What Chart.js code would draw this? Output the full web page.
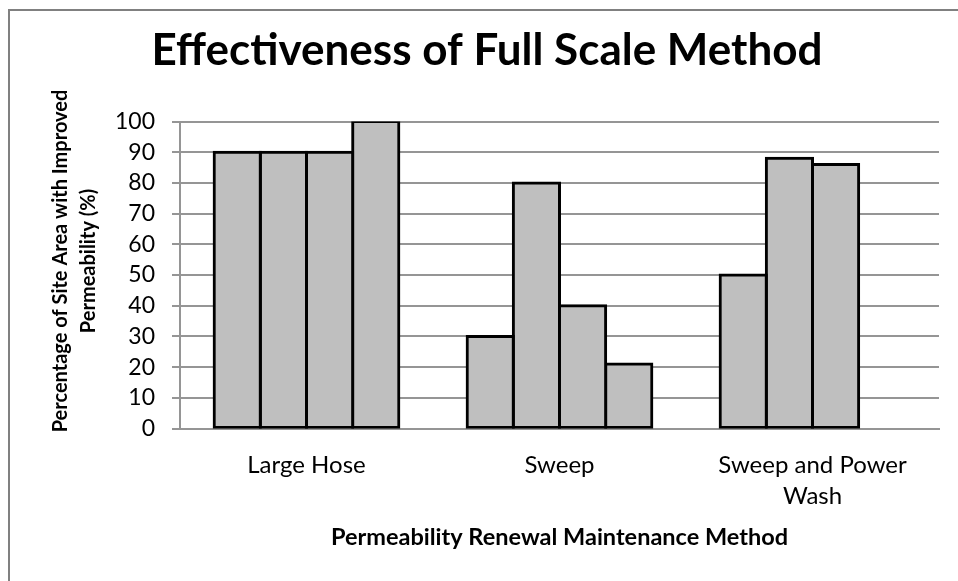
<!DOCTYPE html>
<html>
<head>
<meta charset="utf-8">
<title>Effectiveness of Full Scale Method</title>
<script src="https://cdn.jsdelivr.net/npm/chart.js@4.4.1/dist/chart.umd.min.js"></script>
<style>
  html, body { margin: 0; padding: 0; background: #fff; }
  #chart { display: block; }
</style>
</head>
<body>
<canvas id="chart" width="958" height="581"></canvas>
<script>
// Data
const categories = ['Large Hose', 'Sweep', ['Sweep and Power', 'Wash']];
const trial1 = [90, 30, 50];
const trial2 = [90, 80, 88];
const trial3 = [90, 40, 86];
const trial4 = [100, 21, null];
const yTicks = [0, 10, 20, 30, 40, 50, 60, 70, 80, 90, 100];
const yTitle = ['Percentage of Site Area with Improved', 'Permeability (%)'];

const FONT = 'Lato, "Open Sans", sans-serif';
const GRID = '#959595';

function barSet(label, values) {
    return {
        label: label,
        data: values,
        backgroundColor: '#bfbfbf',
        borderColor: '#000',
        borderWidth: 3,
        borderSkipped: false,
        inflateAmount: 1.5,
        categoryPercentage: 0.73,
        barPercentage: 1.0
    };
}

// frame lines (the chart border is cropped on the right and bottom)
// plus the two-line vertical axis title, which sits a bit above the plot centre
const decorPlugin = {
    id: 'decor',
    afterDraw(chart) {
        const ctx = chart.ctx;
        ctx.save();
        ctx.strokeStyle = '#808080';
        ctx.lineWidth = 2;
        ctx.beginPath();
        ctx.moveTo(9, 581);
        ctx.lineTo(9, 10);
        ctx.lineTo(958, 10);
        ctx.stroke();

        const area = chart.chartArea;
        const cy = (area.top + area.bottom) / 2 - 14;
        ctx.translate(61, cy);
        ctx.rotate(-Math.PI / 2);
        ctx.fillStyle = '#000';
        ctx.font = 'bold 20px ' + FONT;
        ctx.textAlign = 'center';
        ctx.textBaseline = 'middle';
        yTitle.forEach((line, i) => ctx.fillText(line, 0, i * 28));
        ctx.restore();
    }
};

new Chart(document.getElementById('chart'), {
    type: 'bar',
    data: {
        labels: categories,
        datasets: [
            barSet('1', trial1),
            barSet('2', trial2),
            barSet('3', trial3),
            barSet('4', trial4)
        ]
    },
    options: {
        responsive: false,
        animation: false,
        layout: { padding: { left: 35, right: 19, top: 0, bottom: 0 } },
        plugins: {
            legend: { display: false },
            tooltip: { enabled: false },
            title: {
                display: true,
                text: 'Effectiveness of Full Scale Method',
                color: '#000',
                font: { family: FONT, size: 44, weight: 'bold', lineHeight: 1.2 },
                padding: { top: 24, bottom: 44.7 }
            }
        },
        scales: {
            x: {
                grid: { display: false, drawTicks: false },
                border: { display: true, color: GRID, width: 2 },
                ticks: {
                    color: '#000',
                    padding: 21,
                    maxRotation: 0,
                    autoSkip: false,
                    font: { family: FONT, size: 24, lineHeight: 1.3 }
                },
                title: {
                    display: true,
                    text: 'Permeability Renewal Maintenance Method',
                    color: '#000',
                    font: { family: FONT, size: 23.5, weight: 'bold', lineHeight: 1.2 },
                    padding: { top: 0, bottom: 29 }
                },
                afterFit(scale) { scale.height = 152.5; }
            },
            y: {
                min: 0,
                max: 100,
                afterBuildTicks(scale) {
                    scale.ticks = yTicks.map(v => ({ value: v }));
                },
                grid: { color: GRID, lineWidth: 2, drawTicks: true, tickLength: 8 },
                border: { display: true, color: GRID, width: 2 },
                ticks: {
                    color: '#000',
                    padding: 17,
                    font: { family: FONT, size: 23 }
                },
                afterFit(scale) { scale.width = 145; }
            }
        }
    },
    plugins: [decorPlugin]
});
</script>
</body>
</html>
